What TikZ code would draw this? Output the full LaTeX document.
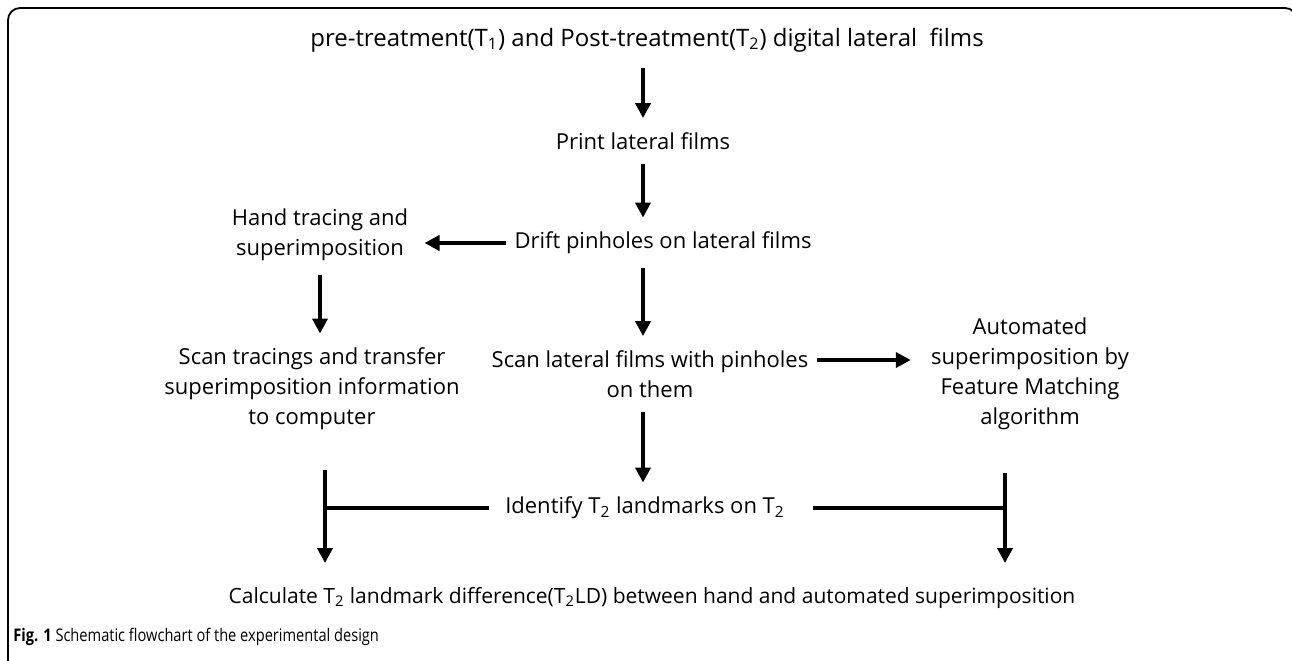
\documentclass[tikz,border=0pt]{standalone}
\usepackage{fontspec}
\setmainfont{Open Sans}
\newfontfamily\capfont[FakeStretch=0.84]{Open Sans}
\usetikzlibrary{arrows.meta}
\tikzset{
  flow/.style={font=\fontsize{11}{15}\selectfont, align=center, inner sep=2pt},
  arr/.style={-{Triangle[length=7.5pt,width=7.5pt]}, line width=2pt},
  bar/.style={line width=2pt},
  frame/.style={line width=0.9pt, rounded corners=6pt}
}
\begin{document}
\begin{tikzpicture}[x=0.5pt,y=-0.5pt]
\clip (0,0) rectangle (1292,660);
\draw[frame] (8,700)--(8,8)--(1297,8)--(1297,700);

\node[flow, font=\fontsize{12}{15}\selectfont] (title) at (647,40) {pre-treatment(T\textsubscript{1}) and Post-treatment(T\textsubscript{2}) digital lateral\ \ films};
\node[flow] (print) at (643,141) {Print lateral films};
\node[flow] (drift) at (663,243) {Drift pinholes on lateral films};
\node[flow] (hand) at (320,235) {Hand tracing and\\superimposition};
\node[flow] (scanT) at (312,389) {Scan tracings and transfer\\superimposition information\\to computer};
\node[flow] (scanL) at (650,374) {Scan lateral films with pinholes\\on them};
\node[flow] (auto) at (1030,374) {Automated\\superimposition by\\Feature Matching\\algorithm};
\node[flow] (ident) at (645,508) {Identify T\textsubscript{2} landmarks on T\textsubscript{2}};
\node[flow, font=\fontsize{10.5}{15}\selectfont] (calc) at (652,598) {Calculate T\textsubscript{2} landmark difference(T\textsubscript{2}LD) between hand and automated superimposition};
\node[anchor=west, inner sep=0pt, font=\capfont\fontsize{8.7}{10}\selectfont] (cap) at (13,637) {\textbf{Fig. 1} Schematic flowchart of the experimental design};

\coordinate (jl) at (325,470);
\coordinate (jr) at (1005,473);

\draw[arr, shorten <=6pt, shorten >=5pt] (title.south -| print) -- (print);
\draw[arr, shorten <=5pt, shorten >=5pt] (print) -- (print |- drift.north);
\draw[arr, shorten <=2pt, shorten >=6pt] (drift.west) -- (drift.west -| hand.east);
\draw[arr, shorten <=5pt, shorten >=5pt] (hand.south) -- (hand.south |- scanT.north);
\draw[arr, shorten <=5pt, shorten >=5pt] (drift.south -| print) -- (print |- scanL.north);
\draw[arr, shorten <=2pt, shorten >=8pt] ([yshift=7pt]scanL.east) -- ([yshift=7pt]scanL.east -| auto.west);
\draw[arr, shorten <=5pt, shorten >=5pt] (print |- scanL.south) -- (print |- ident.north);
\draw[bar, shorten <=6pt] (ident.west) -- (ident.west -| jl);
\draw[bar, shorten <=12pt] (ident.east) -- (ident.east -| jr);
\draw[arr, shorten >=10pt] (jl) -- (jl |- calc.north);
\draw[arr, shorten >=10pt] (jr) -- (jr |- calc.north);
\end{tikzpicture}
\end{document}
